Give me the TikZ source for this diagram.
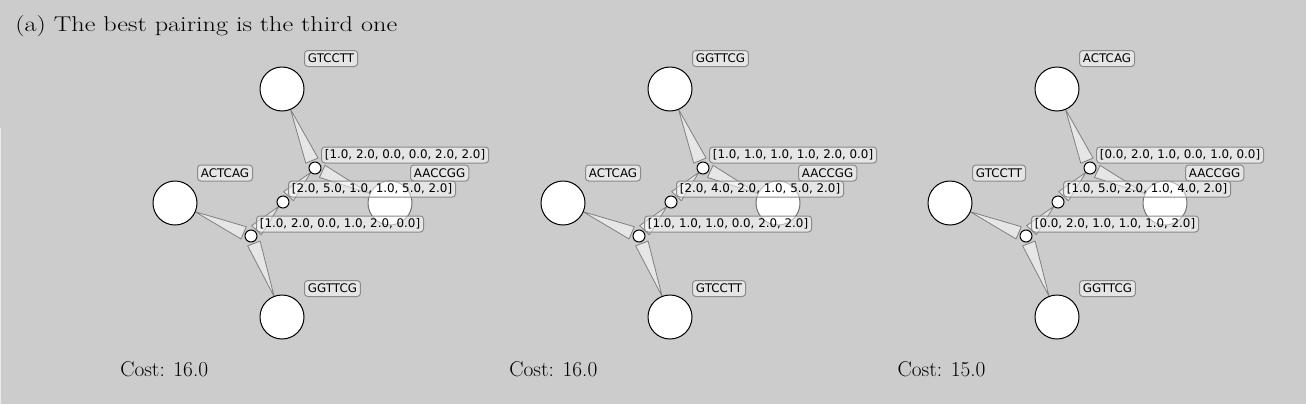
\documentclass[tikz,border=0pt]{standalone}
\usepackage{fontspec}
\newfontfamily\tagfont{DejaVu Sans}
\usetikzlibrary{calc,positioning}

\definecolor{pagegray}{HTML}{CCCCCC}
\definecolor{wedgefill}{HTML}{E6E6E6}
\definecolor{wedgeline}{HTML}{808080}
\definecolor{tagline}{HTML}{8A8A8A}

\tikzset{
  leafnode/.style={circle,draw=black,fill=white,line width=0.75pt,
    minimum size=33pt,inner sep=0pt},
  faintleaf/.style={leafnode,draw=black!55},
  jointnode/.style={circle,draw=black,fill=white,line width=0.75pt,
    minimum size=9pt,inner sep=0pt},
  tagbox/.style={draw=tagline,fill=white,fill opacity=0.5,text opacity=1,
    rounded corners=2.5pt,line width=0.75pt,inner xsep=2.6pt,inner ysep=0pt,
    minimum height=12pt,anchor=west,font=\tagfont\fontsize{8.9}{10}\selectfont},
  edgewedge/.style={draw=wedgeline,fill=wedgefill,line width=0.6pt,line join=round},
  captiontext/.style={inner sep=0pt,anchor=base west,
    font=\fontsize{16}{19}\selectfont},
}

% wedge from child #1 (radius #2) to parent #3
\newcommand\treewedge[3]{
  \coordinate (wb) at ($(#3)!6pt!(#1)$);
  \draw [edgewedge]
    ($(#1)!#2!(#3)$)
    -- ($(wb)!5pt!90:(#3)$)
    -- ($(wb)!5pt!-90:(#3)$)
    -- cycle
  ;
}

\begin{document}
\begin{tikzpicture}[x=0.75pt,y=-0.75pt]
  \fill [pagegray] (0,0) rectangle (1306,404);
  \useasboundingbox (0,0) rectangle (1306,404);
  \draw [white!60!pagegray,line width=1pt] (0.5,128) -- (0.5,404);

  \node [captiontext,xscale=1.23,transform shape] (title) at (15,31)
    {(a) The best pairing is the third one};

  \foreach \i/\dx/\seqt/\seql/\seqr/\seqb/\vala/\valb/\valc/\cost in {
    1/0/GTCCTT/ACTCAG/AACCGG/GGTTCG/{[1.0, 2.0, 0.0, 0.0, 2.0, 2.0]}/{[2.0, 5.0, 1.0, 1.0, 5.0, 2.0]}/{[1.0, 2.0, 0.0, 1.0, 2.0, 0.0]}/16.0,
    2/388/GGTTCG/ACTCAG/AACCGG/GTCCTT/{[1.0, 1.0, 1.0, 1.0, 2.0, 0.0]}/{[2.0, 4.0, 2.0, 1.0, 5.0, 2.0]}/{[1.0, 1.0, 1.0, 0.0, 2.0, 2.0]}/16.0,
    3/775/ACTCAG/GTCCTT/AACCGG/GGTTCG/{[0.0, 2.0, 1.0, 0.0, 1.0, 0.0]}/{[1.0, 5.0, 2.0, 1.0, 4.0, 2.0]}/{[0.0, 2.0, 1.0, 1.0, 1.0, 2.0]}/15.0}
  {
    % tree points
    \coordinate (t\i) at (282+\dx,89);
    \coordinate (l\i) at (175+\dx,203);
    \coordinate (r\i) at (390+\dx,203);
    \coordinate (b\i) at (282+\dx,317);
    \coordinate (ja\i) at (315+\dx,168);
    \coordinate (jb\i) at (283+\dx,202);
    \coordinate (jc\i) at (251+\dx,236);

    % edges
    \treewedge{t\i}{16.5pt}{ja\i}
    \treewedge{r\i}{16.5pt}{ja\i}
    \treewedge{ja\i}{4.5pt}{jb\i}
    \treewedge{jb\i}{4.5pt}{jc\i}
    \treewedge{l\i}{16.5pt}{jc\i}
    \treewedge{b\i}{16.5pt}{jc\i}

    % circles
    \node [leafnode] (top\i) at (t\i) {};
    \node [leafnode] (left\i) at (l\i) {};
    \node [faintleaf] (right\i) at (r\i) {};
    \node [leafnode] (bottom\i) at (b\i) {};
    \node [jointnode] (joina\i) at (ja\i) {};
    \node [jointnode] (joinb\i) at (jb\i) {};
    \node [jointnode] (joinc\i) at (jc\i) {};

    % labels
    \node [tagbox] (toptag\i) at (304+\dx,58.5) {\seqt};
    \node [tagbox] (lefttag\i) at (197+\dx,173) {\seql};
    \node [tagbox] (righttag\i) at (410+\dx,173) {\seqr};
    \node [tagbox] (bottomtag\i) at (304+\dx,288.5) {\seqb};
    \node [tagbox] (joinatag\i) at (321+\dx,155) {\vala};
    \node [tagbox] (joinbtag\i) at (288+\dx,189) {\valb};
    \node [tagbox] (joinctag\i) at (256+\dx,224) {\valc};

    \node [captiontext] (cost\i) at (120+\dx*1.003,376) {Cost: \cost};
  }
\end{tikzpicture}
\end{document}
